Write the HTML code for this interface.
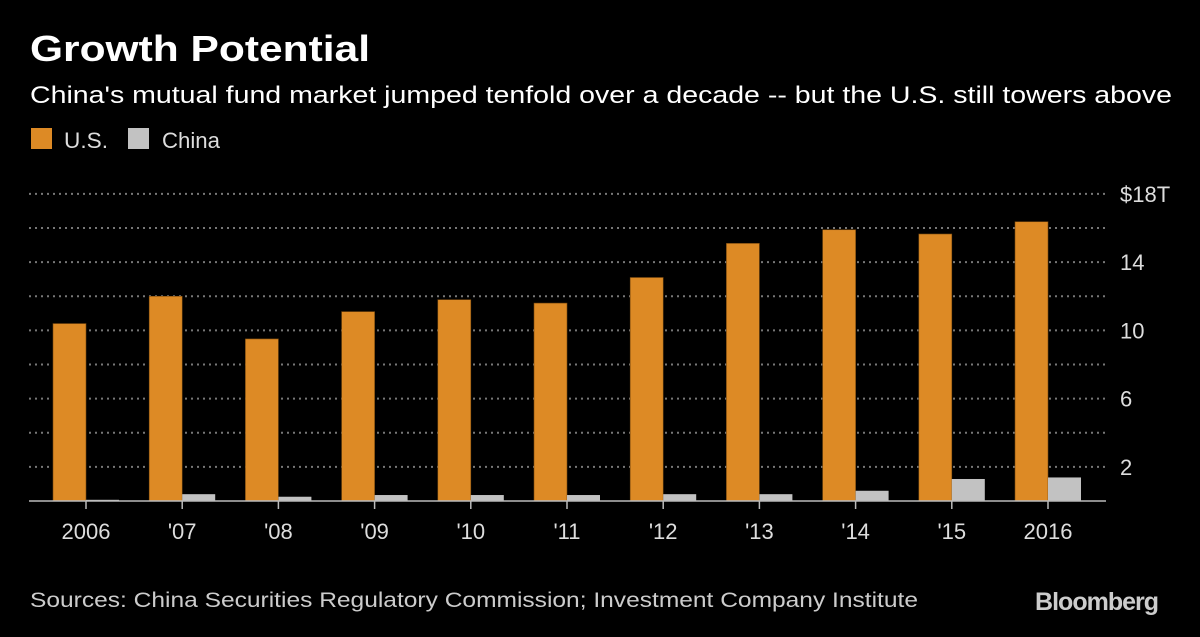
<!DOCTYPE html>
<html><head><meta charset="utf-8"><style>
body{margin:0;background:#000;width:1200px;height:632px;overflow:hidden;font-family:"Liberation Sans",sans-serif;color:#fff}
svg text{font-family:"Liberation Sans",sans-serif}
</style></head><body>
<svg width="1200" height="632">
<text x="30" y="61" font-size="36" font-weight="bold" fill="#fff" textLength="340" lengthAdjust="spacingAndGlyphs">Growth Potential</text>
<text x="30" y="103" font-size="24" fill="#fff" textLength="1142" lengthAdjust="spacingAndGlyphs">China's mutual fund market jumped tenfold over a decade -- but the U.S. still towers above</text>
<rect x="31" y="128" width="21" height="21" fill="#dd8a25"/>
<text x="64" y="148" font-size="22" fill="#ddd" textLength="44" lengthAdjust="spacingAndGlyphs">U.S.</text>
<rect x="128" y="128" width="21" height="21" fill="#c2c2c2"/>
<text x="162" y="148" font-size="22" fill="#ddd" textLength="58" lengthAdjust="spacingAndGlyphs">China</text>
<g id="plot"></g>
<text x="30" y="607" font-size="21" fill="#ccc" textLength="888" lengthAdjust="spacingAndGlyphs">Sources: China Securities Regulatory Commission; Investment Company Institute</text>
<text x="1158" y="610" font-size="25" font-weight="bold" fill="#ccc" text-anchor="end" letter-spacing="-1">Bloomberg</text>
</svg>
<script>
const categories=["2006","'07","'08","'09","'10","'11","'12","'13","'14","'15","2016"];
const usValues=[10.4,12.0,9.5,11.1,11.8,11.6,13.1,15.1,15.9,15.65,16.37];
const chinaValues=[0.07,0.4,0.25,0.35,0.35,0.35,0.4,0.4,0.6,1.29,1.38];
const gridValues=[2,4,6,8,10,12,14,16,18];
const tickLabels=["2","6","10","14","$18T"];
const tickLabelValues=[2,6,10,14,18];
const NS="http://www.w3.org/2000/svg";
const g=document.getElementById('plot');
const y0=501, k=17.06;
const yS=v=>y0-v*k;
const xC=i=>86+i*96.2;
function mk(t,a){const e=document.createElementNS(NS,t);for(const n in a)e.setAttribute(n,a[n]);g.appendChild(e);return e;}
gridValues.forEach(v=>{
 const l=mk('line',{x1:29,x2:1106,y1:yS(v),y2:yS(v),stroke:'#777','stroke-width':2,'stroke-dasharray':'2,4'});
 
 
});
tickLabelValues.forEach((v,i)=>{
 const t=mk('text',{x:1120,y:yS(v)+8,'font-size':22,fill:'#ddd'});t.textContent=tickLabels[i];
 
 
});
categories.forEach((c,i)=>{
 const cx=xC(i);
 const b=mk('rect',{x:cx-33,y:yS(usValues[i]),width:33,height:usValues[i]*k,fill:'#dd8a25',stroke:'#7a4a10','stroke-width':0.6});
 
 
 const b2=mk('rect',{x:cx,y:yS(chinaValues[i]),width:33,height:chinaValues[i]*k,fill:'#c2c2c2'});
 
 
 const tk=mk('line',{x1:cx,x2:cx,y1:y0,y2:y0+8,stroke:'#bbb','stroke-width':1.5});
 
 
 const t=mk('text',{x:cx,y:539,'font-size':22,fill:'#ddd','text-anchor':'middle'});t.textContent=c;
 
 
});
const ax=mk('line',{x1:29,x2:1106,y1:y0,y2:y0,stroke:'#bbb','stroke-width':1.5});


</script>
</body></html>
